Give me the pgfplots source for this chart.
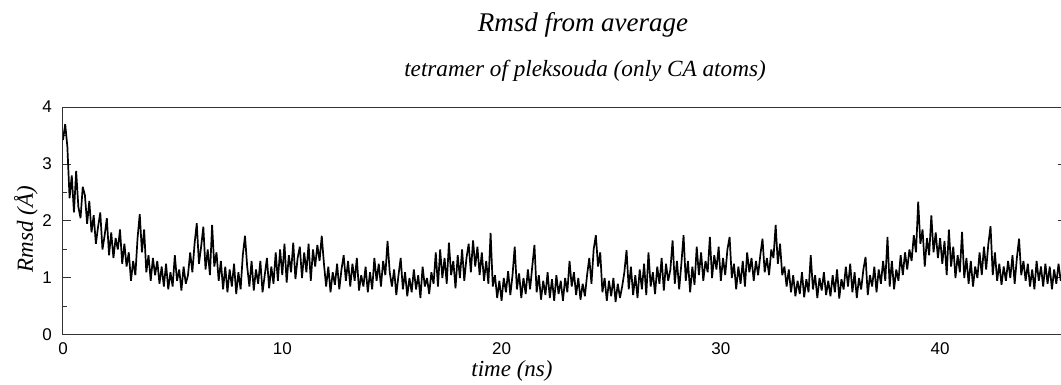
\documentclass[border=0pt]{standalone}
\usepackage{pgfplots}
\pgfplotsset{compat=1.18}
\usepackage{fontspec}
\setmainfont{Liberation Serif}
\newfontfamily\sansf{Liberation Sans}
\begin{document}
\begin{tikzpicture}
\begin{axis}[
  at={(31.5pt,25pt)}, anchor=origin,
  scale only axis, width=501.6pt, height=114pt,
  xmin=0, xmax=45.75, ymin=0, ymax=4,
  axis line style={black!80, line width=0.5pt},
  every tick/.style={black!80, line width=0.5pt},
  xtick=\empty,
  minor xtick={5,15,25,35,45},
  extra x ticks={0,10,20,30,40},
  extra x tick style={major tick length=0pt},
  ytick={0,1,2,3,4},
  minor ytick={0.5,1.5,2.5,3.5},
  major tick length=4pt,
  minor tick length=2pt,
  tick align=inside,
  /pgf/number format/assume math mode=true,
  ticklabel style={font=\sansf\fontsize{8.5}{10}\selectfont},
  xticklabel style={yshift=-0.5pt},
  yticklabel style={xshift=-2pt},
  clip=true,
]
\addplot[black, line width=0.85pt, line join=miter, miter limit=2] coordinates {
(0.0,3.42)(0.1,3.70)(0.2,3.30)(0.3,2.40)(0.4,2.80)(0.5,2.15)(0.6,2.88)(0.7,2.25)(0.8,2.05)(0.9,2.60)
(1.0,2.45)(1.1,1.95)(1.2,2.35)(1.3,1.80)(1.4,2.10)(1.5,1.60)(1.6,1.90)(1.7,2.15)(1.8,1.50)(1.9,1.75)
(2.0,2.05)(2.1,1.40)(2.2,1.80)(2.3,1.35)(2.4,1.70)(2.5,1.50)(2.6,1.85)(2.7,1.25)(2.8,1.60)(2.9,1.20)
(3.0,1.45)(3.1,0.95)(3.2,1.30)(3.3,1.05)(3.4,1.70)(3.5,2.12)(3.6,1.45)(3.7,1.85)(3.8,1.10)(3.9,1.40)
(4.0,0.95)(4.1,1.35)(4.2,1.05)(4.3,1.30)(4.4,0.90)(4.5,1.20)(4.6,0.85)(4.7,1.25)(4.8,0.80)(4.9,1.10)
(5.0,0.85)(5.1,1.40)(5.2,0.95)(5.3,1.15)(5.4,0.78)(5.5,1.20)(5.6,0.90)(5.7,1.05)(5.8,1.45)(5.9,1.10)
(6.0,1.60)(6.1,1.96)(6.2,1.25)(6.3,1.55)(6.4,1.90)(6.5,1.15)(6.6,1.50)(6.7,1.05)(6.8,1.93)(6.9,1.20)
(7.0,1.45)(7.1,0.95)(7.2,1.30)(7.3,0.80)(7.4,1.20)(7.5,0.75)(7.6,1.15)(7.7,0.85)(7.8,1.25)(7.9,0.72)
(8.0,1.10)(8.1,0.80)(8.2,1.40)(8.3,1.74)(8.4,1.20)(8.5,0.85)(8.6,1.30)(8.7,0.78)(8.8,1.15)(8.9,0.90)
(9.0,1.30)(9.1,0.75)(9.2,1.05)(9.3,1.35)(9.4,0.82)(9.5,1.20)(9.6,0.90)(9.7,1.45)(9.8,0.95)(9.9,1.50)
(10.0,1.05)(10.1,1.60)(10.2,0.92)(10.3,1.40)(10.4,1.10)(10.5,1.62)(10.6,0.98)(10.7,1.35)(10.8,1.55)(10.9,1.00)
(11.0,1.45)(11.1,1.10)(11.2,1.60)(11.3,0.95)(11.4,1.50)(11.5,1.20)(11.6,1.58)(11.7,1.30)(11.8,1.74)(11.9,1.25)
(12.0,0.85)(12.1,1.20)(12.2,0.75)(12.3,1.10)(12.4,0.88)(12.5,1.25)(12.6,0.80)(12.7,1.15)(12.8,1.40)(12.9,0.95)
(13.0,1.30)(13.1,0.85)(13.2,1.25)(13.3,0.95)(13.4,1.35)(13.5,0.78)(13.6,1.05)(13.7,0.85)(13.8,1.20)(13.9,0.75)
(14.0,1.10)(14.1,0.80)(14.2,1.35)(14.3,0.95)(14.4,1.25)(14.5,0.85)(14.6,1.30)(14.7,1.05)(14.8,1.65)(14.9,1.10)
(15.0,0.85)(15.1,1.15)(15.2,0.70)(15.3,1.05)(15.4,1.35)(15.5,0.80)(15.6,1.10)(15.7,0.68)(15.8,1.00)(15.9,0.75)
(16.0,1.15)(16.1,0.80)(16.2,1.05)(16.3,0.65)(16.4,1.20)(16.5,0.85)(16.6,1.00)(16.7,0.72)(16.8,1.10)(16.9,0.90)
(17.0,1.45)(17.1,0.85)(17.2,1.50)(17.3,1.00)(17.4,1.35)(17.5,0.90)(17.6,1.62)(17.7,1.05)(17.8,1.30)(17.9,0.82)
(18.0,1.40)(18.1,1.00)(18.2,1.50)(18.3,0.95)(18.4,1.35)(18.5,1.60)(18.6,1.10)(18.7,1.66)(18.8,1.20)(18.9,1.55)
(19.0,1.05)(19.1,1.45)(19.2,0.95)(19.3,1.30)(19.4,0.90)(19.5,1.79)(19.6,0.85)(19.7,1.05)(19.8,0.65)(19.9,0.95)
(20.0,0.60)(20.1,1.00)(20.2,0.75)(20.3,1.12)(20.4,0.70)(20.5,1.05)(20.6,1.55)(20.7,0.80)(20.8,1.08)(20.9,0.65)
(21.0,1.00)(21.1,0.72)(21.2,1.15)(21.3,0.80)(21.4,1.20)(21.5,1.58)(21.6,0.75)(21.7,1.05)(21.8,0.62)(21.9,0.95)
(22.0,0.70)(22.1,1.10)(22.2,0.65)(22.3,0.98)(22.4,0.60)(22.5,1.05)(22.6,0.72)(22.7,0.95)(22.8,0.60)(22.9,1.00)
(23.0,0.75)(23.1,1.30)(23.2,0.85)(23.3,1.10)(23.4,0.70)(23.5,1.00)(23.6,0.62)(23.7,0.90)(23.8,0.68)(23.9,1.05)
(24.0,1.35)(24.1,0.90)(24.2,1.50)(24.3,1.75)(24.4,1.20)(24.5,1.45)(24.6,0.75)(24.7,1.00)(24.8,0.60)(24.9,0.95)
(25.0,0.68)(25.1,1.00)(25.2,0.58)(25.3,0.90)(25.4,0.65)(25.5,0.85)(25.6,1.10)(25.7,1.49)(25.8,0.80)(25.9,1.20)
(26.0,0.70)(26.1,1.05)(26.2,0.65)(26.3,1.15)(26.4,0.80)(26.5,1.25)(26.6,0.70)(26.7,1.45)(26.8,0.85)(26.9,1.10)
(27.0,0.72)(27.1,1.20)(27.2,0.90)(27.3,1.35)(27.4,0.78)(27.5,1.25)(27.6,0.95)(27.7,1.15)(27.8,1.66)(27.9,0.90)
(28.0,1.30)(28.1,0.80)(28.2,1.25)(28.3,1.75)(28.4,0.95)(28.5,1.30)(28.6,0.75)(28.7,1.20)(28.8,0.88)(28.9,1.55)
(29.0,1.05)(29.1,1.45)(29.2,0.95)(29.3,1.30)(29.4,1.10)(29.5,1.72)(29.6,1.00)(29.7,1.40)(29.8,1.15)(29.9,1.55)
(30.0,0.95)(30.1,1.35)(30.2,1.05)(30.3,1.50)(30.4,1.72)(30.5,1.00)(30.6,1.25)(30.7,0.80)(30.8,1.20)(30.9,0.90)
(31.0,1.30)(31.1,0.85)(31.2,1.45)(31.3,1.10)(31.4,1.35)(31.5,0.95)(31.6,1.30)(31.7,1.05)(31.8,1.40)(31.9,1.69)
(32.0,1.10)(32.1,1.35)(32.2,1.05)(32.3,1.50)(32.4,1.35)(32.5,1.93)(32.6,1.25)(32.7,1.60)(32.8,1.05)(32.9,1.20)
(33.0,0.85)(33.1,1.15)(33.2,0.75)(33.3,1.05)(33.4,0.68)(33.5,0.95)(33.6,0.72)(33.7,1.10)(33.8,0.66)(33.9,0.98)
(34.0,0.75)(34.1,1.40)(34.2,0.80)(34.3,1.05)(34.4,0.65)(34.5,1.00)(34.6,0.78)(34.7,1.10)(34.8,0.70)(34.9,0.95)
(35.0,0.68)(35.1,1.05)(35.2,0.75)(35.3,1.15)(35.4,0.64)(35.5,0.98)(35.6,0.80)(35.7,1.20)(35.8,0.85)(35.9,1.25)
(36.0,0.75)(36.1,1.10)(36.2,0.65)(36.3,1.00)(36.4,0.80)(36.5,1.15)(36.6,1.37)(36.7,0.70)(36.8,1.05)(36.9,0.85)
(37.0,1.20)(37.1,0.75)(37.2,1.15)(37.3,0.90)(37.4,1.30)(37.5,0.95)(37.6,1.72)(37.7,0.85)(37.8,1.30)(37.9,0.80)
(38.0,1.15)(38.1,0.95)(38.2,1.40)(38.3,1.05)(38.4,1.45)(38.5,1.15)(38.6,1.50)(38.7,1.30)(38.8,1.75)(38.9,1.45)
(39.0,2.34)(39.1,1.60)(39.2,1.85)(39.3,1.20)(39.4,1.70)(39.5,1.40)(39.6,2.10)(39.7,1.45)(39.8,1.80)(39.9,1.35)
(40.0,1.70)(40.1,1.25)(40.2,1.65)(40.3,1.05)(40.4,1.85)(40.5,1.20)(40.6,1.55)(40.7,1.00)(40.8,1.40)(40.9,1.10)
(41.0,1.81)(41.1,1.00)(41.2,1.35)(41.3,0.90)(41.4,1.30)(41.5,0.85)(41.6,1.20)(41.7,1.00)(41.8,1.45)(41.9,1.05)
(42.0,1.55)(42.1,1.15)(42.2,1.60)(42.3,1.91)(42.4,1.05)(42.5,1.45)(42.6,0.95)(42.7,1.25)(42.8,0.88)(42.9,1.20)
(43.0,0.95)(43.1,1.30)(43.2,1.00)(43.3,1.40)(43.4,0.90)(43.5,1.35)(43.6,1.69)(43.7,1.05)(43.8,1.30)(43.9,0.95)
(44.0,1.25)(44.1,0.85)(44.2,1.15)(44.3,0.80)(44.4,1.30)(44.5,0.95)(44.6,1.20)(44.7,0.85)(44.8,1.25)(44.9,0.90)
(45.0,1.20)(45.1,0.80)(45.2,1.15)(45.3,0.90)(45.4,1.25)(45.5,0.95)(45.6,1.10)
};
\end{axis}
\node[anchor=base, font=\itshape\fontsize{13.5}{16}\selectfont] at (291.5pt,176.5pt) {Rmsd from average};
\node[anchor=base, font=\itshape\fontsize{11.6}{13}\selectfont] at (292.5pt,154pt) {tetramer of pleksouda (only CA atoms)};
\node[anchor=base, font=\itshape\fontsize{11.5}{13}\selectfont] at (256pt,4pt) {time (ns)};
\node[rotate=90, font=\itshape\fontsize{11.5}{13}\selectfont] at (13pt,78pt) {Rmsd (Å)};
\pgfresetboundingbox
\path[use as bounding box] (0,0) rectangle (530.5pt,192.5pt);
\end{tikzpicture}
\end{document}
